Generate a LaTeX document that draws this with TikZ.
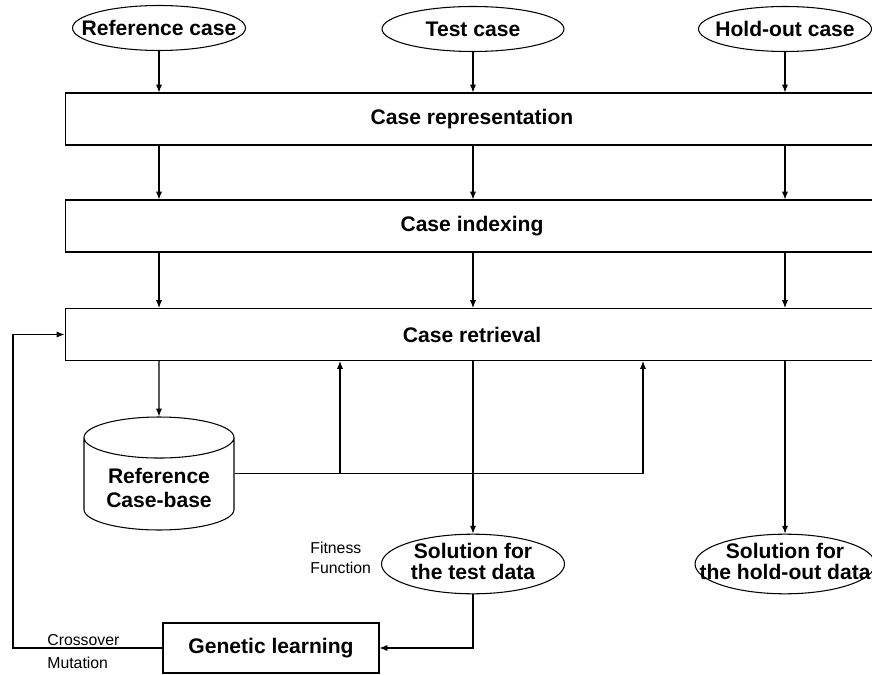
\documentclass[tikz,border=0pt]{standalone}
\usepackage{fontspec}
\setmainfont{Liberation Sans}
\usetikzlibrary{arrows.meta,shapes.geometric}

\newcommand{\ovltext}[1]{\makebox[0pt]{\begin{tabular}{@{}c@{}}#1\end{tabular}}}

\begin{document}
\begin{tikzpicture}[x=0.02cm, y=-0.02cm, >={Latex[length=4.5pt,width=3.5pt]},
    connection/.style={draw=black,line width=0.6pt,->},
    line/.style={draw=black,line width=0.6pt},
    processStep/.style={rectangle,inner sep=2pt,minimum height=1.04cm,minimum width=16.28cm,draw=black,line width=0.6pt,font=\fontsize{12}{11}\selectfont\bfseries},
    caseIn/.style={ellipse,inner sep=0pt,minimum height=0.9cm,minimum width=3.46cm,draw=black,line width=0.6pt,font=\fontsize{12}{11}\selectfont\bfseries},
    caseBase/.style={cylinder,shape border rotate=90,aspect=0.35,minimum height=2.26cm,minimum width=3cm,draw=black,line width=0.6pt,align=center,font=\fontsize{12}{14}\selectfont\bfseries},
    note/.style={inner sep=0pt,align=left,font=\fontsize{9}{11}\selectfont},
]

	\def\colA{159};
	\def\colB{473};
	\def\colC{785};

	\useasboundingbox (0,0) rectangle (872,675);
	\clip (0,0) rectangle (872,675);

	\node[caseIn](refcase) at(\colA,28){\makebox[0pt]{Reference case}};
	\node[caseIn,minimum width=3.64cm](testcase) at(\colB,29){\makebox[0pt]{Test case}};
	\node[caseIn](holdcase) at(\colC,29){\makebox[0pt]{Hold-out case}};

	\node[processStep](rep) at(472,119){Case representation};
	\node[processStep](idx) at(472,226){Case indexing};
	\node[processStep](ret) at(472,334.5){Case retrieval};

	\node[caseBase,anchor=shape center](casebase) at(\colA,473.5){Reference\\Case-base};
	\node[caseIn,minimum width=3.66cm,minimum height=0.94cm](soltest) at(\colB,564){\ovltext{Solution for\\the test data}};
	\node[caseIn,minimum width=3.6cm,minimum height=0.94cm](solhold) at(\colC,564){\ovltext{Solution for\\the hold-out data}};
	\node[processStep,minimum width=4.32cm,minimum height=1cm](genetic) at(271,648){Genetic learning};

	\node[note,anchor=west](fitness) at(310,558){Fitness\\Function};
	\node[note,anchor=south west](xover) at(47,646){Crossover};
	\node[note,anchor=north west](mutation) at(47,657){Mutation};

	\coordinate(fbA) at(340,473.5);
	\coordinate(fbB) at(643,473.5);

	\draw[connection](refcase)--(refcase |- rep.north);
	\draw[connection](testcase)--(testcase |- rep.north);
	\draw[connection](holdcase)--(holdcase |- rep.north);
	\draw[connection](refcase |- rep.south)--(refcase |- idx.north);
	\draw[connection](testcase |- rep.south)--(testcase |- idx.north);
	\draw[connection](holdcase |- rep.south)--(holdcase |- idx.north);
	\draw[connection](refcase |- idx.south)--(refcase |- ret.north);
	\draw[connection](testcase |- idx.south)--(testcase |- ret.north);
	\draw[connection](holdcase |- idx.south)--(holdcase |- ret.north);

	\draw[connection](casebase |- ret.south)--(casebase);
	\draw[line](casebase.east |- fbB)--(fbB);
	\draw[connection](fbA)--(fbA |- ret.south);
	\draw[connection](fbB)--(fbB |- ret.south);
	\draw[connection](testcase |- ret.south)--(soltest);
	\draw[connection](holdcase |- ret.south)--(solhold);
	\draw[connection](soltest) |- (genetic);
	\draw[connection](genetic)--++(-258,0) |- (ret);

\end{tikzpicture}
\end{document}
